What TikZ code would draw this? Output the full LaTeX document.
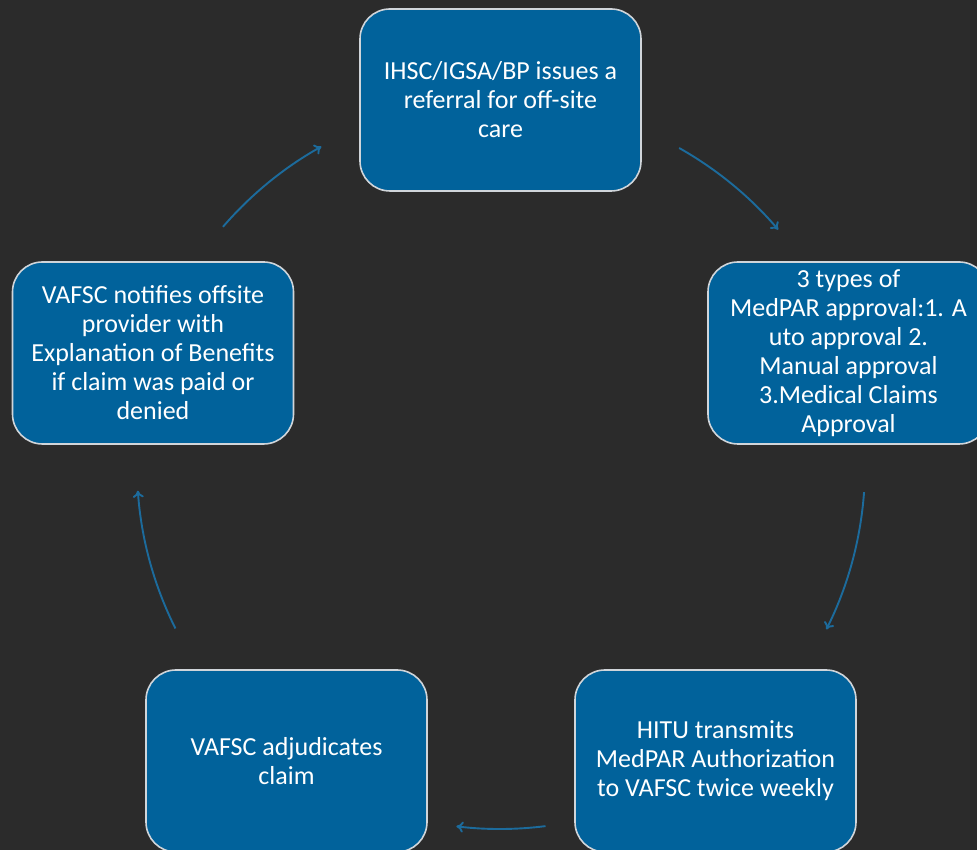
\documentclass[tikz,border=0pt]{standalone}
\usepackage{fontspec}
\setmainfont{Carlito}
\usetikzlibrary{arrows.meta}
\definecolor{bg}{HTML}{2B2B2B}
\definecolor{boxfill}{HTML}{01629B}
\definecolor{boxline}{HTML}{D0D5DA}
\definecolor{arrowc}{HTML}{1C6B9C}
\tikzset{
  stepbox/.style={draw=boxline, line width=1.6pt, fill=boxfill, rounded corners=30pt,
    minimum width=281pt, minimum height=182pt, text=white, align=center,
    font=\fontsize{26}{29}\selectfont, inner sep=2pt},
  flow/.style={draw=arrowc, line width=1.9pt, -{To[length=7pt,width=11pt]}}
}
\begin{document}
\begin{tikzpicture}[x=1pt,y=1pt]
\fill[bg] (0,0) rectangle (977,850);
\useasboundingbox (0,0) rectangle (977,850);
\begin{scope}
\clip (0,0) rectangle (977,850);
\node[stepbox] (top) at (500.5,750) {IHSC/IGSA/BP issues a\\referral for off-site\\care};
\node[stepbox] (right) at (848.5,497) {3 types of\\MedPAR approval:1. A\\uto approval 2.\\Manual approval\\3.Medical Claims\\Approval};
\node[stepbox] (bright) at (715.5,89) {HITU transmits\\MedPAR Authorization\\to VAFSC twice weekly};
\node[stepbox] (bleft) at (286.5,89) {VAFSC adjudicates\\claim};
\node[stepbox] (left) at (153,497) {VAFSC notifies offsite\\provider with\\Explanation of Benefits\\if claim was paid or\\denied};
\end{scope}
\coordinate (C) at (500,384);
\path (C) ++(60.6:365) coordinate (a1);
\path (C) ++(-4.1:365) coordinate (a2);
\path (C) ++(-82.8:363) coordinate (a3);
\path (C) ++(206.6:363) coordinate (a4);
\path (C) ++(139.2:366) coordinate (a5);
\draw[flow] (a1) arc[start angle=60.6, end angle=40.4, radius=366];
\draw[flow] (a2) arc[start angle=-4.1, end angle=-26.6, radius=365];
\draw[flow] (a3) arc[start angle=-82.8, end angle=-96.9, radius=363];
\draw[flow] (a4) arc[start angle=206.6, end angle=183.9, radius=363];
\draw[flow] (a5) arc[start angle=139.2, end angle=119.2, radius=366];
\end{tikzpicture}
\end{document}
